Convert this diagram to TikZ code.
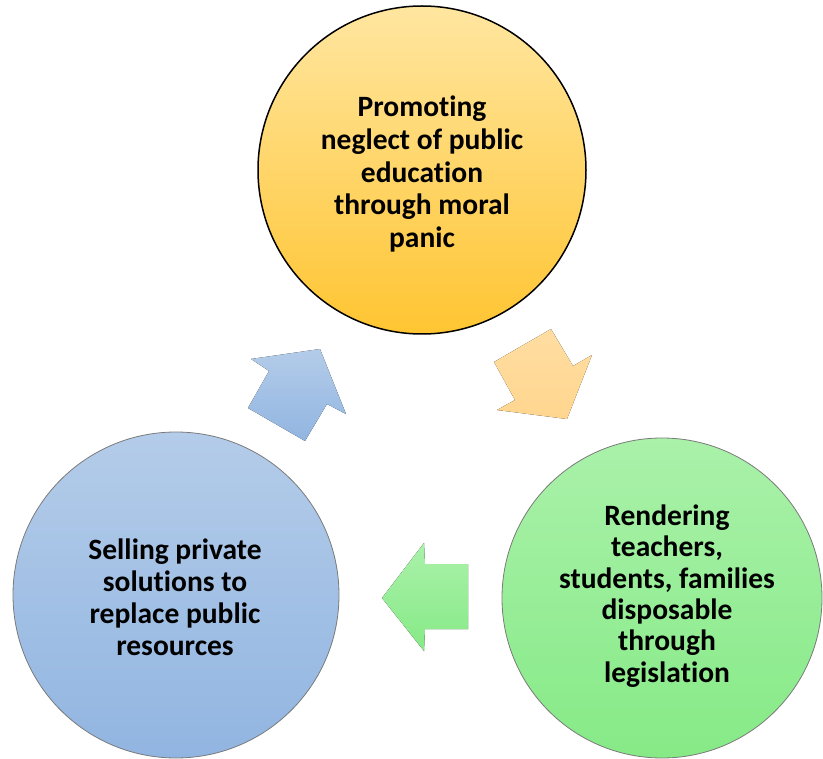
\documentclass[tikz,border=0pt]{standalone}
\usepackage{fontspec}
\setmainfont{Carlito}[Ligatures=NoCommon]
\definecolor{ytop}{HTML}{FFE6A0}
\definecolor{ybot}{HTML}{FFC532}
\definecolor{btop}{HTML}{B4CCE9}
\definecolor{bbot}{HTML}{91B5E1}
\definecolor{gtop}{HTML}{AAF1AA}
\definecolor{gbot}{HTML}{86EA86}
\definecolor{otop}{HTML}{FFDDA2}
\definecolor{obot}{HTML}{FFD68E}
\definecolor{rimgray}{HTML}{7A7A7A}
\begin{document}
\begin{tikzpicture}[x=1pt,y=-1pt,
  bubble/.style={circle, inner sep=0pt, align=center, text=black,
    font=\bfseries\fontsize{29.5}{32.7}\selectfont}]
\useasboundingbox (0,0) rectangle (823,759);
% circles
\node[bubble, minimum size=328pt, draw=black, line width=1.5pt,
      top color=ytop, bottom color=ybot] (top) at (422,170) {};
\node[align=center, inner sep=0pt, font=\bfseries\fontsize{29.5}{32.7}\selectfont]
  (toptext) at (422,174)
  {Promoting\\neglect of public\\education\\through moral\\panic};
\node[bubble, minimum size=326pt, draw=rimgray, line width=0.8pt,
      top color=btop, bottom color=bbot] (left) at (176,595) {};
\node[align=center, inner sep=0pt, font=\bfseries\fontsize{29.5}{32}\selectfont]
  (lefttext) at (175,597)
  {Selling private\\solutions to\\replace public\\resources};
\node[bubble, minimum size=320pt, draw=rimgray, line width=0.8pt,
      top color=gtop, bottom color=gbot] (right) at (662,598) {};
\node[align=center, inner sep=0pt, font=\bfseries\fontsize{29.5}{31.4}\selectfont]
  (righttext) at (667,596)
  {Rendering\\teachers,\\students, families\\disposable\\through\\legislation};
% block arrows
\fill[top color=otop, bottom color=obot]
  (567,419) -- (592,355) -- (573,366) -- (551,329) -- (494,362)
  -- (515,400) -- (497,410) -- cycle;
\fill[top color=gtop, bottom color=gbot]
  (382,598) -- (424,543) -- (425,564) -- (468,564) -- (468,629)
  -- (425,629) -- (424,651) -- cycle;
\fill[top color=btop, bottom color=bbot]
  (320,349) -- (346,414) -- (327,404) -- (305,441) -- (248,408)
  -- (269,371) -- (251,359) -- cycle;
\end{tikzpicture}
\end{document}
